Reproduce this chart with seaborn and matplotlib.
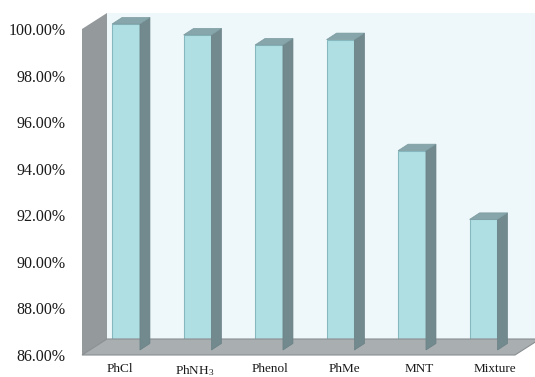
import numpy as np
import pandas as pd
import matplotlib
matplotlib.use("Agg")
import matplotlib.pyplot as plt
import seaborn as sns
from matplotlib.patches import Polygon, Rectangle
from matplotlib.transforms import ScaledTranslation, IdentityTransform

# ---- data ----
categories = ["PhCl", "PhNH$\\mathregular{_3}$", "Phenol", "PhMe", "MNT", "Mixture"]
values = [100.0, 99.53, 99.10, 99.33, 94.56, 91.61]
yticks = [86, 88, 90, 92, 94, 96, 98, 100]
ytick_labels = [f"{v:.2f}%" for v in yticks]

sns.set_style("white")
plt.rcParams["font.family"] = ["Liberation Serif", "DejaVu Serif"]
plt.rcParams["mathtext.fontset"] = "custom"
plt.rcParams["mathtext.rm"] = "Liberation Serif"

W, H, DPI = 535, 377, 100
fig = plt.figure(figsize=(W / DPI, H / DPI), dpi=DPI)
fig.patch.set_facecolor("white")

# front plane of the chart (pixels 82..515 x, 29..355 y from top)
ax = fig.add_axes([82 / W, (H - 355) / H, 433 / W, 326 / H])
ax.set_facecolor("none")
for s in ax.spines.values():
    s.set_visible(False)

df = pd.DataFrame({"cat": categories, "val": values})
sns.barplot(data=df, x="cat", y="val", ax=ax, color="#B0DFE3", saturation=1,
            width=0.39, edgecolor="#86B9BF", linewidth=0.8)
ax.set_ylim(86, 100)
ax.set_xlim(-0.5035, 5.552)
ax.set_xlabel("")
ax.set_ylabel("")
ax.set_yticks(yticks, ytick_labels)
ax.tick_params(axis="y", length=5, width=1, color="#8C8C8C", pad=7,
               labelsize=11.5, labelcolor="#1A1A1A")
ax.tick_params(axis="x", length=0, labelbottom=False)

def px(dx, dy):
    return ScaledTranslation(dx / DPI, dy / DPI, fig.dpi_scale_trans)

fig.canvas.draw()

# walls (depth vector 25 px right, 16 px up)
D = (25, 16)
ta = ax.transAxes
def P(pt, off=(0, 0)):
    x, y = ta.transform(pt)
    return (x + off[0], y + off[1])

back = Polygon([P((0, 0), D), P((1.2, 0), D), P((1.2, 1), D), P((0, 1), D)],
               closed=True, transform=IdentityTransform(), facecolor="#EEF8FA",
               edgecolor="none", zorder=0)
left = Polygon([P((0, 0)), P((0, 0), D), P((0, 1), D), P((0, 1))],
               closed=True, transform=IdentityTransform(), facecolor="#94999C",
               edgecolor="none", zorder=0.5)
floor = Polygon([P((0, 0)), P((1, 0)), P((1, 0), D), P((0, 0), D)],
                closed=True, transform=IdentityTransform(), facecolor="#A9AEB1",
                edgecolor="#8A8F92", linewidth=0.8, zorder=0.6)
for p in (back, left, floor):
    fig.add_artist(p)

# bars: front face at depth offset A, back at B
A = (8, 5)
B = (18, 11.5)
clip = Rectangle((0, 0), 1, 1.2, transform=ax.transAxes + px(*A), facecolor="none")
td = ax.transData
for bar in ax.patches:
    x0 = bar.get_x()
    w = bar.get_width()
    h = bar.get_height()
    bar.set_transform(td + px(*A))
    bar.set_clip_path(clip)
    bar.set_zorder(3)
    def Q(pt, off):
        x, y = td.transform(pt)
        return (x + off[0], y + off[1])
    side = Polygon([Q((x0 + w, 86), A), Q((x0 + w, 86), B), Q((x0 + w, h), B), Q((x0 + w, h), A)],
                   closed=True, transform=IdentityTransform(), facecolor="#72898E",
                   edgecolor="#6A8186", linewidth=0.5, zorder=2)
    top = Polygon([Q((x0, h), A), Q((x0 + w, h), A), Q((x0 + w, h), B), Q((x0, h), B)],
                  closed=True, transform=IdentityTransform(), facecolor="#86A6AB",
                  edgecolor="#7C9BA0", linewidth=0.5, zorder=2)
    fig.add_artist(side)
    fig.add_artist(top)

# category labels placed along the floor front edge in equal slots
def fwd(x):
    return (71.5 * np.asarray(x) - 1.5) / 75.0
def inv(s):
    return (75.0 * np.asarray(s) + 1.5) / 71.5
sec = ax.secondary_xaxis("bottom", functions=(fwd, inv))
sec.set_xticks(range(len(categories)), categories)
sec.tick_params(length=0, pad=6, labelsize=9.5, labelcolor="#1A1A1A")
for s in sec.spines.values():
    s.set_visible(False)

fig.savefig("out.png", dpi=DPI)
